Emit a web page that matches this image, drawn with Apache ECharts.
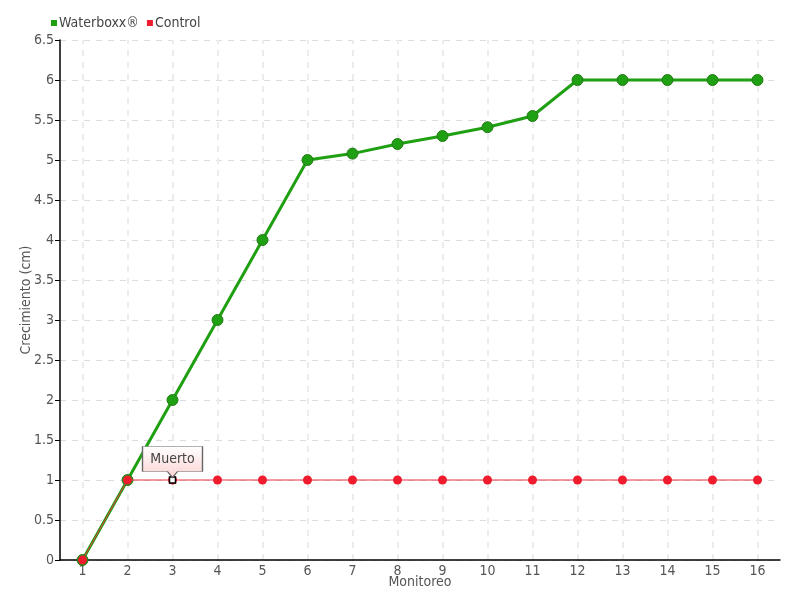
<!DOCTYPE html>
<html><head><meta charset="utf-8">
<script src="https://cdn.jsdelivr.net/npm/echarts@6/dist/echarts.min.js"></script>
<style>html,body{margin:0;padding:0;background:#fff}#c{width:800px;height:600px}</style>
</head><body><div id="c"></div>
<script>
var categories = ['1','2','3','4','5','6','7','8','9','10','11','12','13','14','15','16'];
var waterboxx = [0,1,2,3,4,5,5.08,5.2,5.3,5.41,5.55,6,6,6,6,6];
var control = [0,1,1,1,1,1,1,1,1,1,1,1,1,1,1,1];
var deadIndex = 2;
var deadLabel = 'Muerto';
var FONT = '"DejaVu Sans Condensed","Liberation Sans Narrow","Roboto Condensed",sans-serif';

var chart = echarts.init(document.getElementById('c'));
chart.setOption({
  animation:false,
  textStyle:{fontFamily:FONT},
  legend:{left:46, top:11, itemWidth:6, itemHeight:6, itemGap:8, icon:'rect',
    itemStyle:{borderWidth:0},
    textStyle:{fontFamily:FONT, fontSize:14, color:'#444', padding:[0,0,0,-3]},
    data:['Waterboxx®','Control']},
  grid:{left:60, right:20, top:40, bottom:40},
  xAxis:{type:'category', data:categories, boundaryGap:true,
    name:'Monitoreo', nameLocation:'middle', nameGap:15, nameMoveOverlap:false,
    nameTextStyle:{fontFamily:FONT, fontSize:14, color:'#555'},
    axisLine:{lineStyle:{color:'#000', width:1.5}},
    axisTick:{alignWithLabel:true, length:5, lineStyle:{color:'#555'}},
    axisLabel:{fontFamily:FONT, fontSize:14, color:'#555', margin:4},
    splitLine:{show:false}},
  yAxis:{type:'value', min:0, max:6.5, interval:0.5,
    name:'Crecimiento (cm)', nameLocation:'middle', nameGap:27, nameMoveOverlap:false,
    nameTextStyle:{fontFamily:FONT, fontSize:14, color:'#555'},
    axisLine:{show:true, lineStyle:{color:'#000', width:1.5}},
    axisTick:{show:true, length:5, lineStyle:{color:'#000'}},
    axisLabel:{fontFamily:FONT, fontSize:14, color:'#555', margin:6},
    splitLine:{lineStyle:{color:'#dddddd', type:[6,6]}}},
  series:[
    {name:'grid', type:'line', data:[], silent:true, z:0,
      markLine:{silent:true, symbol:'none', label:{show:false}, animation:false, z:0,
        lineStyle:{color:'#ececec', width:2, type:[6,6]},
        data:categories.map(function(c){return {xAxis:c};})}},
    {name:'Waterboxx®', type:'line', data:waterboxx, symbol:'circle', symbolSize:11,
      color:'#1fa012',
      lineStyle:{color:'#1fa012', width:3},
      itemStyle:{color:'#1fa012', borderColor:'#237a17', borderWidth:1}, z:2},
    {name:'Control', type:'line', data:control, symbol:'circle', symbolSize:9,
      color:'#ee1c2e',
      lineStyle:{color:'#ee3344', width:1},
      itemStyle:{color:'#ee1c2e'}, z:3,
      markPoint:{silent:true, animation:false, z:6,
        data:[
          {coord:[categories[deadIndex], control[deadIndex]], symbol:'rect', symbolSize:6,
            itemStyle:{color:'#fff', borderColor:'#000', borderWidth:1.5}, label:{show:false}},
          {coord:[categories[deadIndex], control[deadIndex]],
            symbol:'path://M0,0 H60 V25 H35 L30,31 L25,25 H0 Z', symbolKeepAspect:false,
            symbolSize:[60,31], symbolOffset:[0,-18],
            itemStyle:{color:{type:'linear',x:0,y:0,x2:0,y2:1,colorStops:[{offset:0,color:'#ffffff'},{offset:1,color:'#fbd3d3'}]},
              borderColor:'#666', borderWidth:1},
            label:{show:true, formatter:deadLabel, position:'inside', offset:[0,-3],
              fontFamily:FONT, fontSize:14, color:'#444'}}
        ]}}
  ]
});
</script></body></html>
